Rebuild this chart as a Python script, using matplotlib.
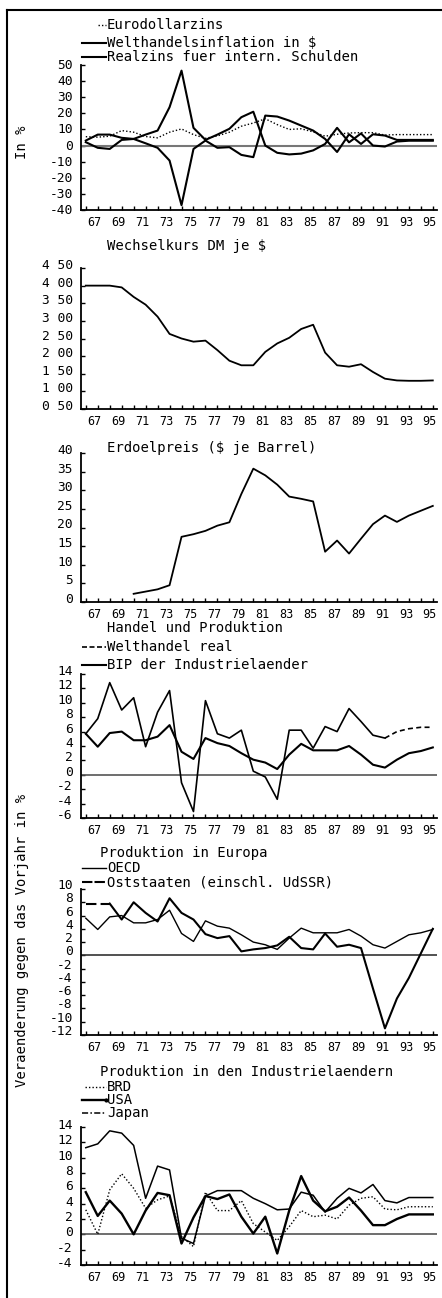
import numpy as np
import matplotlib
matplotlib.use("Agg")
import matplotlib.pyplot as plt
from matplotlib.lines import Line2D
from matplotlib import transforms

plt.rcParams['font.family'] = ['DejaVu Sans Mono', 'DejaVu Sans']

W, H = 442, 1298
nan = np.nan

years = list(range(66, 96))
year_labels = [str(y) for y in range(67, 96, 2)]

# panel 1: Zinsen / Inflation (in %)
euro = [5.5, 5.2, 5.8, 9.3, 8.3, 5.6, 4.8, 8.3, 10.3, 6.8, 4.5, 6.0, 8.3, 12.0, 14.0,
        16.6, 13.0, 10.0, 10.4, 8.5, 5.8, 7.0, 7.8, 8.0, 8.0, 6.5, 6.8, 6.8, 6.8, 6.8]
inflation = [2.1, -1.4, -2.1, 3.5, 4.1, 6.8, 9.3, 23.8, 46.5, 11.0, 3.5, 6.8, 10.4, 17.6, 21.0,
             0.0, -4.5, -5.5, -5.0, -3.0, 1.0, 11.0, 2.0, 7.5, 0.0, -0.6, 2.5, 3.0, 3.0, 3.0]
realzins = [3.1, 6.8, 6.8, 4.8, 4.1, 1.4, -1.4, -9.3, -37.0, -2.1, 3.1, -1.4, -1.0, -5.8, -7.2,
            18.6, 18.0, 15.5, 12.4, 9.3, 4.1, -4.0, 7.0, 1.0, 7.0, 6.2, 3.5, 3.5, 3.5, 3.5]
p1_ticks = [50, 40, 30, 20, 10, 0, -10, -20, -30, -40]

# panel 2: Wechselkurs DM je $
dm_rate = [4.0, 4.0, 4.0, 3.95, 3.68, 3.46, 3.12, 2.63, 2.5, 2.41, 2.44, 2.17, 1.87, 1.74, 1.74,
           2.12, 2.36, 2.52, 2.77, 2.89, 2.1, 1.74, 1.70, 1.77, 1.55, 1.36, 1.31, 1.30, 1.30, 1.31]
p2_ticks = [4.5, 4.0, 3.5, 3.0, 2.5, 2.0, 1.5, 1.0, 0.5]
p2_labels = ["4 50", "4 00", "3 50", "3 00", "2 50", "2 00", "1 50", "1 00", "0 50"]

# panel 3: Erdoelpreis
oil = [nan, nan, nan, nan, 2.2, 2.8, 3.4, 4.5, 17.5, 18.2, 19.1, 20.5, 21.4, 29.0, 35.8,
       34.0, 31.5, 28.3, 27.7, 27.0, 13.5, 16.5, 13.0, 17.0, 20.9, 23.2, 21.5, 23.2, 24.5, 25.8]
p3_ticks = [40, 35, 30, 25, 20, 15, 10, 5, 0]

# panel 4: Handel und Produktion
trade = [5.7, 7.8, 12.8, 9.0, 10.7, 3.9, 8.7, 11.7, -1.1, -5.1, 10.3, 5.7, 5.1, 6.2, 0.5,
         -0.3, -3.4, 6.2, 6.2, 3.7, 6.7, 6.0, 9.2, 7.4, 5.5, 5.1, 6.0, 6.4, 6.6, 6.6]
gdp = [5.7, 3.9, 5.8, 6.0, 4.8, 4.8, 5.3, 6.9, 3.2, 2.2, 5.1, 4.4, 4.0, 3.0, 2.1,
       1.7, 0.8, 2.8, 4.3, 3.4, 3.4, 3.4, 4.0, 2.8, 1.4, 1.0, 2.1, 3.0, 3.3, 3.8]
p4_ticks = [14, 12, 10, 8, 6, 4, 2, 0, -2, -4, -6]

# panel 5: Produktion in Europa
oecd = [5.6, 3.9, 5.8, 6.0, 4.9, 4.9, 5.4, 6.8, 3.3, 2.1, 5.2, 4.4, 4.1, 3.1, 2.0,
        1.6, 0.9, 2.6, 4.1, 3.4, 3.4, 3.4, 3.9, 2.9, 1.6, 1.1, 2.1, 3.1, 3.4, 3.9]
east = [7.8, 7.8, 7.8, 5.4, 8.0, 6.4, 5.1, 8.6, 6.4, 5.4, 3.2, 2.6, 2.9, 0.6, 0.9,
        1.1, 1.5, 2.8, 1.1, 0.9, 3.3, 1.3, 1.6, 1.1, -5.0, -11.0, -6.5, -3.4, 0.3, 4.0]
p5_ticks = [10, 8, 6, 4, 2, 0, -2, -4, -6, -8, -10, -12]

# panel 6: Produktion in den Industrielaendern
brd = [3.2, 0.0, 5.8, 7.9, 6.0, 3.4, 4.5, 5.0, -0.3, -1.6, 5.5, 3.1, 3.1, 4.4, 1.4,
       0.3, -0.8, 1.0, 3.1, 2.3, 2.5, 2.0, 3.8, 4.7, 4.9, 3.3, 3.2, 3.6, 3.6, 3.6]
usa = [5.5, 2.4, 4.4, 2.7, 0.0, 3.1, 5.4, 5.1, -1.2, 2.2, 5.0, 4.6, 5.2, 2.3, 0.1,
       2.3, -2.5, 3.1, 7.6, 4.4, 3.0, 3.6, 4.8, 3.1, 1.2, 1.2, 2.0, 2.6, 2.6, 2.6]
japan = [11.3, 11.8, 13.5, 13.2, 11.6, 4.7, 8.9, 8.4, -0.5, -1.2, 5.0, 5.7, 5.7, 5.7, 4.7,
         4.0, 3.2, 3.3, 5.5, 5.1, 2.9, 4.7, 6.0, 5.4, 6.5, 4.4, 4.1, 4.8, 4.8, 4.8]
p6_ticks = [14, 12, 10, 8, 6, 4, 2, 0, -2, -4]


fig = plt.figure(figsize=(W / 100, H / 100), dpi=100)


def fx(x):
    return x / W


def fy(y):
    return 1 - y / H


def add_panel(top, bottom, ylim, yticks, ylabels=None, ylab_shift=4):
    ax = fig.add_axes([fx(81), fy(bottom), (437 - 81) / W, (bottom - top) / H])
    ax.set_xlim(65.6, 95.35)
    ax.set_ylim(*ylim)
    for s in ['top', 'right']:
        ax.spines[s].set_visible(False)
    for s in ['left', 'bottom']:
        ax.spines[s].set_linewidth(1.3)
    ax.set_xticks(range(67, 96, 2))
    ax.set_xticklabels(year_labels)
    ax.set_xticks(range(66, 96, 2), minor=True)
    ax.set_yticks(yticks)
    ax.set_yticklabels(ylabels if ylabels else [str(t) for t in yticks])
    ax.tick_params(axis='both', which='both', direction='in', length=3, width=1)
    ax.tick_params(axis='x', labelsize=8.5, pad=4)
    ax.tick_params(axis='y', labelsize=9.3, pad=6)
    dx = transforms.ScaledTranslation(-3 / 100, 0, fig.dpi_scale_trans)
    for lab in ax.get_xticklabels():
        lab.set_transform(lab.get_transform() + dx)
    dy = transforms.ScaledTranslation(0, ylab_shift / 100, fig.dpi_scale_trans)
    for lab in ax.get_yticklabels():
        lab.set_transform(lab.get_transform() + dy)
    return ax


def label(x, y, s, size=10, **kw):
    fig.text(fx(x), fy(y), s, fontsize=size, va='center', ha='left', **kw)


def sample(x0, x1, y, **kw):
    fig.add_artist(Line2D([fx(x0), fx(x1)], [fy(y), fy(y)], transform=fig.transFigure, **kw))


# frame of the scanned page
fig.add_artist(Line2D([fx(7), fx(7)], [fy(10), fy(H)], color='black', lw=1.5, transform=fig.transFigure))
fig.add_artist(Line2D([fx(7), fx(W)], [fy(10), fy(10)], color='black', lw=1.5, transform=fig.transFigure))

# panel 1
ax1 = add_panel(65, 210, (-40, 50), p1_ticks, ylab_shift=1)
ax1.axhline(0, color='#777777', lw=1.5)
ax1.plot(years, euro, color='black', lw=1.0, ls=(0, (1, 1.5)))
ax1.plot(years, inflation, color='black', lw=1.5)
ax1.plot(years, realzins, color='black', lw=1.5)
sample(98, 106, 25, color='black', lw=1.0, ls=(0, (1, 1.5)))
label(107, 25, "Eurodollarzins")
sample(82, 106, 43, color='black', lw=1.5)
label(107, 43, "Welthandelsinflation in $")
sample(82, 106, 57, color='black', lw=1.5)
label(107, 57, "Realzins fuer intern. Schulden")
fig.text(fx(22), fy(142), "In %", rotation=90, fontsize=10, ha='center', va='center')

# panel 2
ax2 = add_panel(268, 409, (0.5, 4.5), p2_ticks, p2_labels)
ax2.plot(years, dm_rate, color='black', lw=1.3)
label(107, 246, "Wechselkurs DM je $")

# panel 3
ax3 = add_panel(453, 602, (0, 40), p3_ticks)
ax3.plot(years, oil, color='black', lw=1.3)
label(107, 448, "Erdoelpreis ($ je Barrel)")

# panel 4
ax4 = add_panel(674, 818, (-6, 14), p4_ticks)
ax4.axhline(0, color='#555555', lw=1.2)
ax4.plot(years[:26], trade[:26], color='black', lw=1.2)
ax4.plot(years[25:], trade[25:], color='black', lw=1.2, ls=(0, (3, 2)))
ax4.plot(years, gdp, color='black', lw=1.5)
label(107, 628, "Handel und Produktion")
sample(82, 106, 647, color='black', lw=1.2, ls=(0, (3, 1.5)))
label(107, 647, "Welthandel real")
sample(82, 106, 665, color='black', lw=1.5)
label(107, 665, "BIP der Industrielaender")

# panel 5
ax5 = add_panel(889, 1035, (-12, 10), p5_ticks, ylab_shift=5)
ax5.axhline(0, color='#333333', lw=1.2)
ax5.plot(years, oecd, color='black', lw=1.0)
ax5.plot(years[:3], east[:3], color='black', lw=1.5, ls=(0, (5, 2)))
ax5.plot(years[2:], east[2:], color='black', lw=1.5)
label(100, 853, "Produktion in Europa")
sample(82, 106, 868, color='black', lw=1.0)
label(107, 868, "OECD")
sample(82, 106, 882, color='black', lw=1.5, ls=(0, (5, 1)))
label(107, 882, "Oststaaten (einschl. UdSSR)")

# panel 6
ax6 = add_panel(1127, 1265, (-4, 14), p6_ticks, ylab_shift=3)
ax6.axhline(0, color='#555555', lw=1.2)
ax6.plot(years, brd, color='black', lw=1.0, ls=(0, (1, 1.5)))
ax6.plot(years, usa, color='black', lw=1.7)
ax6.plot(years, japan, color='black', lw=1.1)
label(100, 1072, "Produktion in den Industrielaendern")
sample(85, 106, 1087, color='black', lw=1.0, ls=(0, (1, 1.5)))
label(107, 1087, "BRD")
sample(82, 106, 1100, color='black', lw=1.7, marker='o', markersize=2, markevery=[1])
label(107, 1100, "USA")
sample(82, 106, 1113, color='black', lw=1.1, ls=(0, (4, 1.5, 1, 1.5)))
label(107, 1113, "Japan")

fig.text(fx(22), fy(940), "Veraenderung gegen das Vorjahr in %", rotation=90,
         fontsize=10, ha='center', va='center')

fig.savefig("out.png", dpi=100)
